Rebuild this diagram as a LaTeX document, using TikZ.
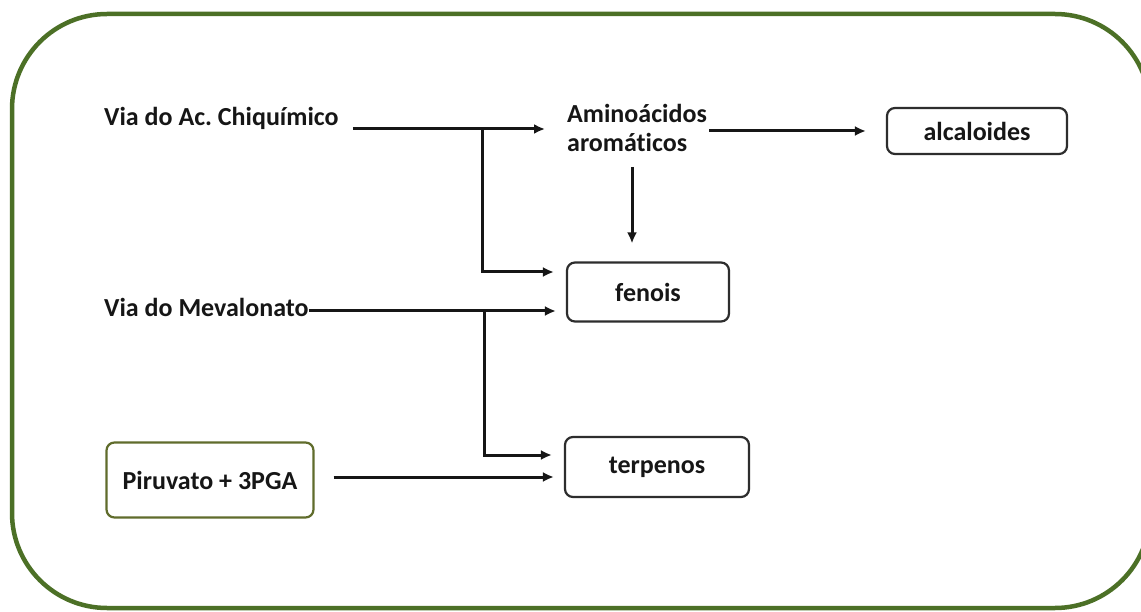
\documentclass[tikz,border=0pt]{standalone}
\usepackage{fontspec}
\setmainfont{Carlito}[Ligatures={NoCommon}]
\usetikzlibrary{arrows.meta,calc}
\definecolor{frameg}{RGB}{76,112,38}
\definecolor{oliveb}{RGB}{96,108,44}
\definecolor{ink}{RGB}{22,22,22}
\begin{document}
\begin{tikzpicture}[x=1pt,y=-1pt,
  txt/.style={inner sep=0pt,font=\fontsize{26}{29}\selectfont\bfseries,text=ink},
  boxn/.style={txt,draw=ink!90,line width=2.2pt,rounded corners=8pt,fill=white,align=center},
  arr/.style={draw=ink,line width=3pt,-{Latex[length=11pt,width=10pt]}},
  frame/.style={draw=frameg,line width=4.5pt,rounded corners=95pt}]
\useasboundingbox (0,0) rectangle (1141,612);
\clip (0,0) rectangle (1141,612);
\fill[white] (0,0) rectangle (1141,612);
\draw[frame] (12,14) rectangle (1150,608);

\node[txt,anchor=west] (chiq) at (104,118) {Via do Ac.\ Chiquímico};
\node[txt,anchor=north west,align=left] (amino) at (567,104) {Aminoácidos\\aromáticos};
\node[boxn,minimum width=180pt,minimum height=46pt] (alc) at (977,131) {alcaloides};
\node[boxn,minimum width=162pt,minimum height=59pt] (fen) at (648,292) {fenois};
\node[txt,anchor=west] (mev) at (104,307) {Via do Mevalonato};
\node[boxn,minimum width=184pt,minimum height=60pt] (terp) at (657,467) {terpenos};
\node[boxn,draw=oliveb,minimum width=207pt,minimum height=75pt] (piru) at (210,480) {Piruvato + 3PGA};

\coordinate (j1) at (482,129);
\coordinate (j2) at (484,311);
\coordinate (v1) at (632,167);

\draw[arr] (chiq.east |- j1) ++(14,0) -- ([xshift=-22pt]amino.west |- j1);
\draw[arr] (j1) |- ([shift={(-12pt,20pt)}]fen.west);
\draw[arr] ([xshift=2pt]amino.east |- 0,131) -- ([xshift=-20pt]alc.west);
\draw[arr] (v1) -- ([xshift=-16pt,yshift=18pt]fen.north);
\draw[arr] (mev.east |- j2) -- ([shift={(-10pt,-19pt)}]fen.west);
\draw[arr] (j2) |- ([shift={(-12pt,12pt)}]terp.west);
\draw[arr] ([shift={(19pt,3pt)}]piru.east) -- ([shift={(-10pt,-10pt)}]terp.west);
\end{tikzpicture}
\end{document}
